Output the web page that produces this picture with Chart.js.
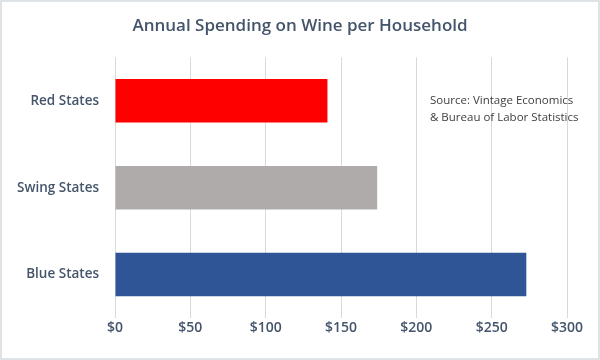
<!DOCTYPE html>
<html>
<head>
<meta charset="utf-8">
<script src="https://cdn.jsdelivr.net/npm/chart.js@4"></script>
<style>
  html, body { margin: 0; padding: 0; background: #fff; }
  #wrap { width: 600px; height: 360px; box-sizing: border-box; border: 2px solid #dfe2e6; position: relative; }
  canvas { display: block; }
</style>
</head>
<body>
<div id="wrap"><canvas id="chart" width="596" height="356"></canvas></div>
<script>
// Chart data
const categories = ['Red States', 'Swing States', 'Blue States'];
const spending = [141, 174, 273];
const barColors = ['#ff0000', '#afabab', '#2f5597'];
const xTicks = [0, 50, 100, 150, 200, 250, 300];

const fontFamily = "'Open Sans', 'Noto Sans', sans-serif";

// Source note drawn in the upper right of the plot area
const sourceNote = {
    id: 'sourceNote',
    afterDraw(chart) {
        const { ctx, chartArea } = chart;
        ctx.save();
        ctx.fillStyle = '#404040';
        ctx.font = `11.5px ${fontFamily}`;
        ctx.textAlign = 'left';
        ctx.textBaseline = 'middle';
        const x = chartArea.right - 137;
        ctx.fillText('Source: Vintage Economics', x, chartArea.top + 43);
        ctx.fillText('& Bureau of Labor Statistics', x, chartArea.top + 60);
        ctx.restore();
    }
};

new Chart(document.getElementById('chart').getContext('2d'), {
    type: 'bar',
    data: {
        labels: categories,
        datasets: [{
            data: spending,
            backgroundColor: barColors,
            barPercentage: 0.5,
            categoryPercentage: 1
        }]
    },
    options: {
        indexAxis: 'y',
        responsive: false,
        animation: false,
        layout: { padding: 0 },
        plugins: {
            legend: { display: false },
            tooltip: { enabled: false },
            title: {
                display: true,
                text: 'Annual Spending on Wine per Household',
                color: '#44546a',
                font: { family: fontFamily, size: 17, weight: '600' },
                padding: { top: 14, bottom: 21 }
            }
        },
        scales: {
            x: {
                min: 0,
                max: 300,
                afterBuildTicks: (scale) => { scale.ticks = xTicks.map(v => ({ value: v })); },
                afterFit: (scale) => { scale.height = 40; scale.paddingRight = 31; },
                grid: { color: '#d9d9d9', lineWidth: 1, drawTicks: false },
                border: { display: false },
                ticks: {
                    color: '#44546a',
                    padding: 2,
                    font: { family: fontFamily, size: 14, weight: '600' },
                    callback: (v) => '$' + v
                }
            },
            y: {
                afterFit: (scale) => { scale.width = 113; },
                grid: { display: false },
                border: { display: false },
                ticks: {
                    color: '#44546a',
                    padding: 8,
                    font: { family: fontFamily, size: 13.5, weight: '600' }
                }
            }
        }
    },
    plugins: [sourceNote]
});
</script>
</body>
</html>
